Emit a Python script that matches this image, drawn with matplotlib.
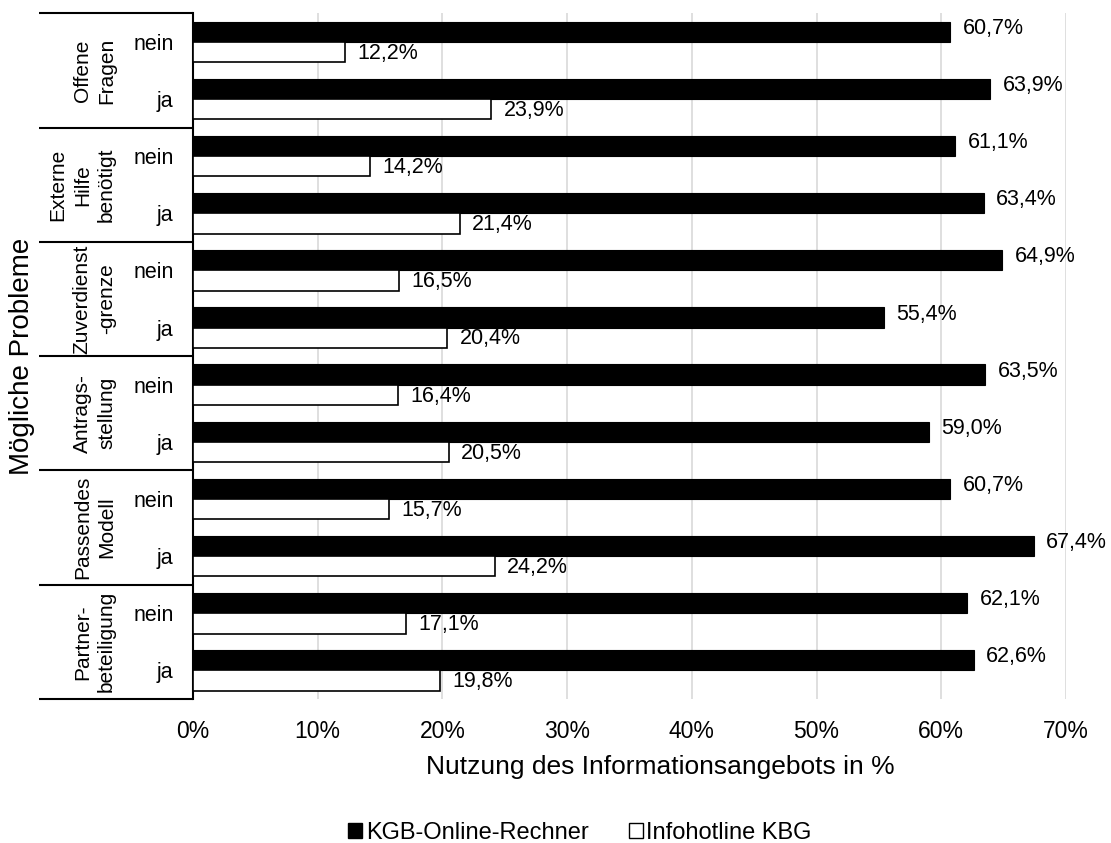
"""Nutzung des Informationsangebots nach möglichen Problemen (horizontal bars)."""
import matplotlib.pyplot as plt
import numpy as np
from matplotlib.patches import Patch

plt.rcParams["font.family"] = ["Liberation Sans", "DejaVu Sans"]

# groups (top to bottom) and sub-categories
GROUPS = ["Offene\nFragen", "Externe\nHilfe\nbenötigt", "Zuverdienst\n-grenze",
          "Antrags-\nstellung", "Passendes\nModell", "Partner-\nbeteiligung"]
SUBCATS = ["nein", "ja"]

# values in %, order: group0-nein, group0-ja, group1-nein, ...
ONLINE_RECHNER = [60.7, 63.9, 61.1, 63.4, 64.9, 55.4, 63.5, 59.0, 60.7, 67.4, 62.1, 62.6]
INFOHOTLINE = [12.2, 23.9, 14.2, 21.4, 16.5, 20.4, 16.4, 20.5, 15.7, 24.2, 17.1, 19.8]

SERIES_LABELS = ["KGB-Online-Rechner", "Infohotline KBG"]
XTICKS = [0, 10, 20, 30, 40, 50, 60, 70]


def fmt(v):
    return f"{v:.1f}%".replace(".", ",")


fig = plt.figure(figsize=(11.11, 8.43), dpi=100)
ax = fig.add_axes([193 / 1111, 1 - 699 / 843, 873 / 1111, (699 - 13.3) / 843])

n = len(ONLINE_RECHNER)
y = np.arange(n)
h = 0.355

ax.barh(y - h / 2, ONLINE_RECHNER, height=h, color="black", edgecolor="black",
        linewidth=0.8, zorder=3)
ax.barh(y + h / 2, INFOHOTLINE, height=h, color="white", edgecolor="black",
        linewidth=1.2, zorder=3)

for yi, v in zip(y, ONLINE_RECHNER):
    ax.text(v + 1.0, yi - h / 2 - 0.06, fmt(v), va="center", ha="left", fontsize=15.5)
for yi, v in zip(y, INFOHOTLINE):
    ax.text(v + 1.0, yi + h / 2 + 0.02, fmt(v), va="center", ha="left", fontsize=15.5)

ax.set_xlim(0, 70)
ax.set_ylim(n - 0.5, -0.5)
ax.set_xticks(XTICKS)
ax.set_xticklabels([f"{t}%" for t in XTICKS], fontsize=16.5)
ax.set_yticks(y)
ax.set_yticklabels(SUBCATS * len(GROUPS), fontsize=15.5)
ax.tick_params(axis="y", length=0, pad=14)
ax.tick_params(axis="x", length=0, pad=15)
ax.grid(axis="x", color="#D9D9D9", linewidth=1.2, zorder=0)
ax.set_axisbelow(True)
for s in ["top", "right", "bottom"]:
    ax.spines[s].set_visible(False)
ax.spines["left"].set_linewidth(1.5)

# multi-level category axis: separators and group labels
trans = ax.get_yaxis_transform()
x_left = (39 - 193) / 873
for k in range(len(GROUPS) + 1):
    yb = -0.5 + 2 * k
    ax.plot([x_left, 0], [yb, yb], color="black", lw=1.5, transform=trans,
            clip_on=False, solid_capstyle="butt")
for g, name in enumerate(GROUPS):
    ax.text((116 - 193) / 873, 2 * g + 0.5, name, transform=trans, rotation=90,
            ha="right", va="center", multialignment="center", fontsize=15,
            linespacing=1.35)

fig.text(22 / 1111, 1 - 356 / 843, "Mögliche Probleme", rotation=90,
         ha="center", va="center", fontsize=20)
fig.text(660 / 1111, 1 - 767 / 843, "Nutzung des Informationsangebots in %",
         ha="center", va="center", fontsize=19)

handles = [Patch(facecolor="black", edgecolor="black"),
           Patch(facecolor="white", edgecolor="black")]
fig.legend(handles, SERIES_LABELS, loc="center", bbox_to_anchor=(580 / 1111, 1 - 833 / 843),
           ncol=2, frameon=False, fontsize=17, handlelength=0.6, handleheight=0.6,
           handletextpad=0.15, columnspacing=1.7, borderpad=0, borderaxespad=0)

fig.savefig("out.png", dpi=100, facecolor="white")
